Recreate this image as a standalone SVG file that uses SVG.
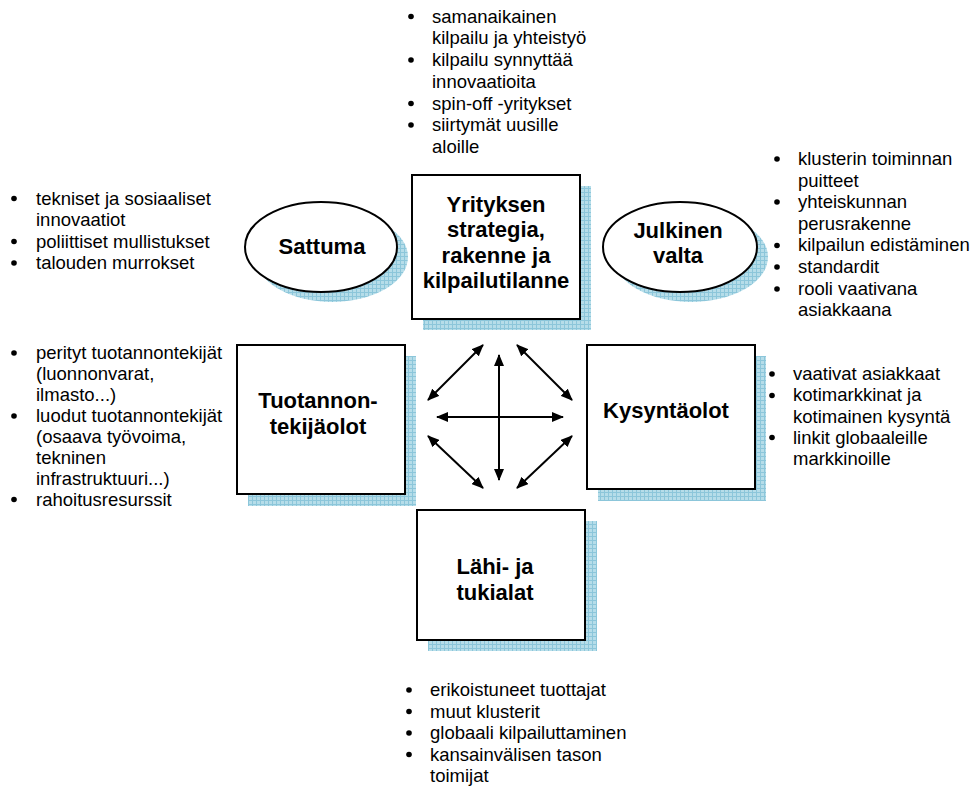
<svg xmlns="http://www.w3.org/2000/svg" width="977" height="788" viewBox="0 0 977 788">
  <defs>
    <!-- light blue grid used for the drop shadows -->
    <pattern id="grid" width="4" height="4" patternUnits="userSpaceOnUse">
      <rect width="4" height="4" fill="#b6dde9"/>
      <path d="M0 0.5H4M0.5 0V4" stroke="#8cc6da" stroke-width="1" fill="none"/>
    </pattern>
    <marker id="head" viewBox="0 0 12 10" refX="11" refY="5" markerWidth="12" markerHeight="10" markerUnits="userSpaceOnUse" orient="auto-start-reverse">
      <path d="M0 0L12 5L0 10Z" fill="#000"/>
    </marker>
  </defs>
  <style>
    .shadow { fill: url(#grid); }
    .box { fill: #fff; stroke: #000; stroke-width: 2; }
    .title { font-family: "Liberation Sans", Arial, sans-serif; font-weight: bold; font-size: 22px; fill: #000; text-anchor: middle; }
    .note { font-family: "Liberation Sans", Arial, sans-serif; font-size: 18.5px; fill: #000; }
    .dot { fill: #000; }
    .arrow { stroke: #000; stroke-width: 2; fill: none; marker-start: url(#head); marker-end: url(#head); }
  </style>
  <rect width="977" height="788" fill="#fff"/>

  <!-- Sattuma -->
  <g id="sattuma">
    <ellipse class="shadow" cx="332" cy="257" rx="76" ry="45"/>
    <ellipse class="box" cx="321" cy="247" rx="76" ry="45"/>
    <text class="title" x="322" y="254">Sattuma</text>
  </g>

  <!-- Julkinen valta -->
  <g id="julkinen-valta">
    <ellipse class="shadow" cx="691" cy="257" rx="77" ry="45"/>
    <ellipse class="box" cx="680" cy="247" rx="77" ry="45"/>
    <text class="title" x="678" y="238">Julkinen</text>
    <text class="title" x="678" y="263">valta</text>
  </g>

  <!-- Yrityksen strategia -->
  <g id="strategia">
    <rect class="shadow" x="423" y="186" width="168" height="144"/>
    <rect class="box" x="412" y="175" width="168" height="144"/>
    <text class="title" x="496" y="211.5">Yrityksen</text>
    <text class="title" x="496" y="237">strategia,</text>
    <text class="title" x="496" y="262.5">rakenne ja</text>
    <text class="title" x="496" y="288">kilpailutilanne</text>
  </g>

  <!-- Tuotannontekijäolot -->
  <g id="tuotannontekijaolot">
    <rect class="shadow" x="248" y="356" width="168" height="150"/>
    <rect class="box" x="237" y="345" width="168" height="149"/>
    <text class="title" x="318" y="408">Tuotannon-</text>
    <text class="title" x="318" y="434">tekijäolot</text>
  </g>

  <!-- Kysyntäolot -->
  <g id="kysyntaolot">
    <rect class="shadow" x="598" y="356" width="168" height="145"/>
    <rect class="box" x="587" y="345" width="168" height="144"/>
    <text class="title" x="666" y="418">Kysyntäolot</text>
  </g>

  <!-- Lähi- ja tukialat -->
  <g id="tukialat">
    <rect class="shadow" x="428" y="521" width="169" height="130"/>
    <rect class="box" x="417" y="510" width="168" height="130"/>
    <text class="title" x="495" y="574">Lähi- ja</text>
    <text class="title" x="495" y="600">tukialat</text>
  </g>

  <!-- connectors between the four corner factors -->
  <g id="connectors">
    <line class="arrow" x1="499" y1="355" x2="499" y2="480"/>
    <line class="arrow" x1="437" y1="417" x2="563" y2="417"/>
    <line class="arrow" x1="483" y1="345" x2="428" y2="400"/>
    <line class="arrow" x1="517" y1="345" x2="572" y2="400"/>
    <line class="arrow" x1="428" y1="436" x2="483" y2="488"/>
    <line class="arrow" x1="572" y1="436" x2="517" y2="488"/>
  </g>

  <!-- bullet lists -->
  <g id="list-strategia">
    <circle class="dot" cx="411" cy="16.5" r="2.8"/>
    <circle class="dot" cx="411" cy="60" r="2.8"/>
    <circle class="dot" cx="411" cy="103.5" r="2.8"/>
    <circle class="dot" cx="411" cy="125" r="2.8"/>
    <text class="note" x="432" y="22.5">samanaikainen</text>
    <text class="note" x="432" y="44.3">kilpailu ja yhteistyö</text>
    <text class="note" x="432" y="66">kilpailu synnyttää</text>
    <text class="note" x="432" y="87.8">innovaatioita</text>
    <text class="note" x="432" y="109.5">spin-off -yritykset</text>
    <text class="note" x="432" y="131.3">siirtymät uusille</text>
    <text class="note" x="432" y="153">aloille</text>
  </g>

  <g id="list-sattuma">
    <circle class="dot" cx="14" cy="198.5" r="2.8"/>
    <circle class="dot" cx="14" cy="241.5" r="2.8"/>
    <circle class="dot" cx="14" cy="263" r="2.8"/>
    <text class="note" x="36" y="204.5">tekniset ja sosiaaliset</text>
    <text class="note" x="36" y="226">innovaatiot</text>
    <text class="note" x="36" y="247.5">poliittiset mullistukset</text>
    <text class="note" x="36" y="269">talouden murrokset</text>
  </g>

  <g id="list-julkinen">
    <circle class="dot" cx="777" cy="159" r="2.8"/>
    <circle class="dot" cx="777" cy="202" r="2.8"/>
    <circle class="dot" cx="777" cy="245.5" r="2.8"/>
    <circle class="dot" cx="777" cy="267" r="2.8"/>
    <circle class="dot" cx="777" cy="289" r="2.8"/>
    <text class="note" x="798" y="165">klusterin toiminnan</text>
    <text class="note" x="798" y="186.6">puitteet</text>
    <text class="note" x="798" y="208.2">yhteiskunnan</text>
    <text class="note" x="798" y="229.8">perusrakenne</text>
    <text class="note" x="798" y="251.4">kilpailun edistäminen</text>
    <text class="note" x="798" y="273">standardit</text>
    <text class="note" x="798" y="294.6">rooli vaativana</text>
    <text class="note" x="798" y="316.2">asiakkaana</text>
  </g>

  <g id="list-tuotannontekijat">
    <circle class="dot" cx="14" cy="353" r="2.8"/>
    <circle class="dot" cx="14" cy="416" r="2.8"/>
    <circle class="dot" cx="14" cy="499.5" r="2.8"/>
    <text class="note" x="36" y="359">perityt tuotannontekijät</text>
    <text class="note" x="36" y="380">(luonnonvarat,</text>
    <text class="note" x="36" y="401">ilmasto...)</text>
    <text class="note" x="36" y="422">luodut tuotannontekijät</text>
    <text class="note" x="36" y="443">(osaava työvoima,</text>
    <text class="note" x="36" y="464">tekninen</text>
    <text class="note" x="36" y="485">infrastruktuuri...)</text>
    <text class="note" x="36" y="506">rahoitusresurssit</text>
  </g>

  <g id="list-kysynta">
    <circle class="dot" cx="772" cy="374" r="2.8"/>
    <circle class="dot" cx="772" cy="395.5" r="2.8"/>
    <circle class="dot" cx="772" cy="437.5" r="2.8"/>
    <text class="note" x="793" y="380">vaativat asiakkaat</text>
    <text class="note" x="793" y="401.3">kotimarkkinat ja</text>
    <text class="note" x="793" y="422.5">kotimainen kysyntä</text>
    <text class="note" x="793" y="443.5">linkit globaaleille</text>
    <text class="note" x="793" y="464.5">markkinoille</text>
  </g>

  <g id="list-tukialat">
    <circle class="dot" cx="409" cy="690" r="2.8"/>
    <circle class="dot" cx="409" cy="711.5" r="2.8"/>
    <circle class="dot" cx="409" cy="733" r="2.8"/>
    <circle class="dot" cx="409" cy="754.5" r="2.8"/>
    <text class="note" x="430" y="696">erikoistuneet tuottajat</text>
    <text class="note" x="430" y="717.5">muut klusterit</text>
    <text class="note" x="430" y="739">globaali kilpailuttaminen</text>
    <text class="note" x="430" y="760.5">kansainvälisen tason</text>
    <text class="note" x="430" y="782">toimijat</text>
  </g>
</svg>
